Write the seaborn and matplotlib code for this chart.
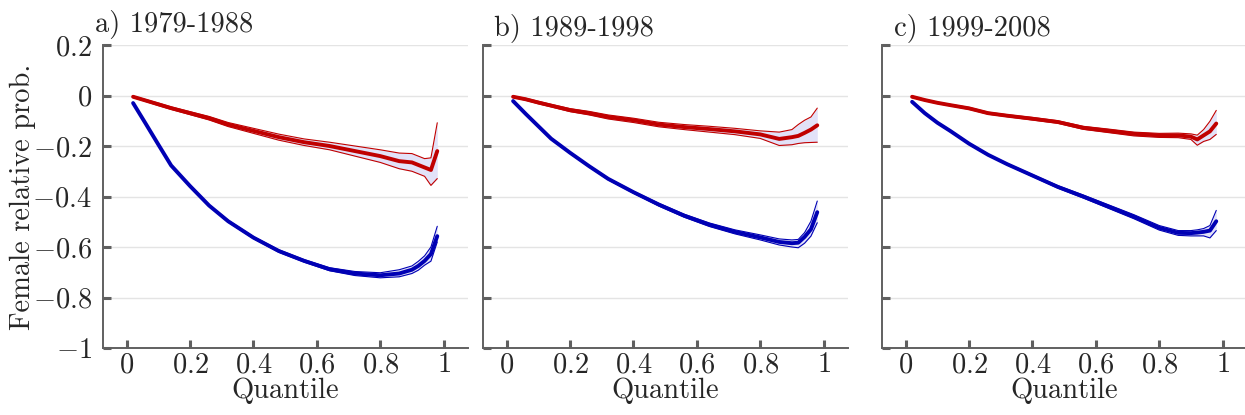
import numpy as np
import pandas as pd
import matplotlib
matplotlib.use('Agg')
import matplotlib.pyplot as plt
import seaborn as sns
from matplotlib.ticker import FuncFormatter

sns.set_style('white')
plt.rcParams.update({
    'font.family': ['cmr10', 'DejaVu Serif'],
    'mathtext.fontset': 'cm',
    'axes.unicode_minus': False,
    'axes.formatter.use_mathtext': True,
})

RED = '#c00000'
BLUE = '#0000b4'
FILL = '#e2e2f8'
GREY = '#606060'

# ── Data ─────────────────────────────────────────────────────────────────────
quantile = [0.02, 0.06, 0.10, 0.14, 0.20, 0.26, 0.32, 0.40, 0.48, 0.56,
            0.64, 0.72, 0.80, 0.86, 0.90, 0.92, 0.94, 0.96, 0.98]

titles = ['a) 1979-1988', 'b) 1989-1998', 'c) 1999-2008']

# panel a
red_a    = [-0.005, -0.02, -0.035, -0.05, -0.07, -0.09, -0.115, -0.14, -0.165, -0.185,
            -0.20, -0.22, -0.24, -0.26, -0.265, -0.275, -0.285, -0.295, -0.22]
red_a_hi = [-0.002, -0.016, -0.03, -0.045, -0.064, -0.083, -0.107, -0.13, -0.153, -0.172,
            -0.185, -0.2, -0.215, -0.228, -0.23, -0.24, -0.25, -0.247, -0.108]
red_a_lo = [-0.008, -0.024, -0.04, -0.055, -0.076, -0.097, -0.123, -0.15, -0.177, -0.198,
            -0.215, -0.24, -0.265, -0.29, -0.30, -0.31, -0.32, -0.356, -0.329]
blue_a    = [-0.03, -0.112, -0.195, -0.277, -0.359, -0.436, -0.498, -0.563, -0.616, -0.655,
             -0.688, -0.705, -0.712, -0.705, -0.69, -0.675, -0.655, -0.628, -0.557]
blue_a_hi = [-0.027, -0.109, -0.192, -0.274, -0.356, -0.433, -0.494, -0.559, -0.611, -0.65,
             -0.682, -0.697, -0.702, -0.69, -0.675, -0.657, -0.635, -0.60, -0.518]
blue_a_lo = [-0.033, -0.115, -0.198, -0.28, -0.362, -0.439, -0.502, -0.567, -0.621, -0.66,
             -0.694, -0.713, -0.722, -0.718, -0.705, -0.692, -0.672, -0.656, -0.58]

# panel b
red_b    = [-0.005, -0.015, -0.028, -0.04, -0.058, -0.07, -0.085, -0.098, -0.115, -0.125,
            -0.133, -0.142, -0.154, -0.172, -0.165, -0.16, -0.148, -0.135, -0.118]
red_b_hi = [-0.002, -0.011, -0.023, -0.035, -0.052, -0.063, -0.077, -0.09, -0.106, -0.115,
            -0.122, -0.13, -0.14, -0.145, -0.135, -0.115, -0.098, -0.085, -0.05]
red_b_lo = [-0.008, -0.019, -0.033, -0.045, -0.064, -0.077, -0.093, -0.107, -0.124, -0.135,
            -0.145, -0.155, -0.17, -0.198, -0.195, -0.19, -0.187, -0.186, -0.185]
blue_b    = [-0.022, -0.073, -0.122, -0.171, -0.227, -0.28, -0.33, -0.383, -0.432, -0.476,
             -0.512, -0.54, -0.562, -0.58, -0.585, -0.583, -0.56, -0.53, -0.462]
blue_b_hi = [-0.019, -0.07, -0.119, -0.168, -0.224, -0.277, -0.327, -0.379, -0.427, -0.47,
             -0.505, -0.532, -0.552, -0.568, -0.572, -0.57, -0.543, -0.498, -0.418]
blue_b_lo = [-0.025, -0.076, -0.125, -0.174, -0.23, -0.283, -0.334, -0.387, -0.438, -0.482,
             -0.519, -0.548, -0.572, -0.592, -0.600, -0.603, -0.585, -0.557, -0.504]

# panel c
red_c    = [-0.005, -0.018, -0.029, -0.038, -0.051, -0.07, -0.08, -0.092, -0.105, -0.128,
            -0.14, -0.152, -0.158, -0.158, -0.163, -0.174, -0.158, -0.142, -0.111]
red_c_hi = [-0.002, -0.015, -0.026, -0.035, -0.047, -0.066, -0.076, -0.087, -0.1, -0.122,
            -0.133, -0.145, -0.15, -0.149, -0.152, -0.157, -0.135, -0.102, -0.059]
red_c_lo = [-0.008, -0.021, -0.032, -0.041, -0.055, -0.074, -0.084, -0.097, -0.11, -0.134,
            -0.147, -0.16, -0.166, -0.167, -0.174, -0.197, -0.182, -0.174, -0.154]
blue_c    = [-0.025, -0.07, -0.108, -0.14, -0.191, -0.235, -0.272, -0.317, -0.362, -0.40,
             -0.44, -0.48, -0.524, -0.544, -0.545, -0.543, -0.54, -0.535, -0.498]
blue_c_hi = [-0.022, -0.067, -0.105, -0.137, -0.188, -0.232, -0.269, -0.313, -0.357, -0.394,
             -0.433, -0.472, -0.515, -0.535, -0.535, -0.532, -0.527, -0.515, -0.455]
blue_c_lo = [-0.028, -0.073, -0.111, -0.143, -0.194, -0.238, -0.275, -0.321, -0.367, -0.406,
             -0.447, -0.488, -0.533, -0.554, -0.556, -0.556, -0.556, -0.564, -0.535]

panels = [
    (red_a, red_a_lo, red_a_hi, blue_a, blue_a_lo, blue_a_hi),
    (red_b, red_b_lo, red_b_hi, blue_b, blue_b_lo, blue_b_hi),
    (red_c, red_c_lo, red_c_hi, blue_c, blue_c_lo, blue_c_hi),
]

# ── Figure ───────────────────────────────────────────────────────────────────
fig = plt.figure(figsize=(12.45, 4.15), dpi=100)
lefts = [103, 483, 882]
title_x = [-0.022, 0.03, 0.033]
title_y = [1.043, 1.03, 1.03]
fmt = FuncFormatter(lambda v, p: '$%g$' % (round(v, 2) + 0.0))

for i, (ttl, data) in enumerate(zip(titles, panels)):
    ax = fig.add_axes([lefts[i] / 1245, 1 - 348 / 415, 365 / 1245, 303 / 415])
    r, r_lo, r_hi, b, b_lo, b_hi = data
    for c, lo, hi, col in [(r, r_lo, r_hi, RED), (b, b_lo, b_hi, BLUE)]:
        ax.fill_between(quantile, lo, hi, color=FILL, lw=0, zorder=1)
        sns.lineplot(x=quantile, y=lo, ax=ax, color=col, lw=0.8, zorder=2)
        sns.lineplot(x=quantile, y=hi, ax=ax, color=col, lw=0.8, zorder=2)
        sns.lineplot(x=quantile, y=c, ax=ax, color=col, lw=2.8, zorder=3)

    ax.set_xlim(-0.075, 1.077)
    ax.set_ylim(-1, 0.2)
    ax.set_xticks(np.arange(0, 1.01, 0.2))
    ax.set_yticks(np.arange(-1, 0.21, 0.2))
    ax.xaxis.set_major_formatter(fmt)
    ax.yaxis.set_major_formatter(fmt)
    ax.yaxis.grid(True, color='#e4e4e4', lw=1.0, zorder=0)
    ax.set_axisbelow(True)
    for s in ['top', 'right']:
        ax.spines[s].set_visible(False)
    for s in ['left', 'bottom']:
        ax.spines[s].set_color(GREY)
        ax.spines[s].set_linewidth(1.4)
    ax.tick_params(direction='in', length=6, width=2.2, color=GREY,
                   bottom=True, left=True, labelsize=20.5)
    ax.tick_params(axis='x', pad=3)
    ax.tick_params(axis='y', pad=8)
    if i > 0:
        ax.tick_params(axis='y', labelleft=False)
    else:
        ax.set_ylabel('Female relative prob.', fontsize=20.5, labelpad=-3)
    ax.set_xlabel('Quantile', fontsize=20.5, labelpad=-1)
    ax.text(title_x[i], title_y[i], ttl, transform=ax.transAxes,
            fontsize=20.5, ha='left', va='baseline')

plt.savefig('out.png', dpi=100)
